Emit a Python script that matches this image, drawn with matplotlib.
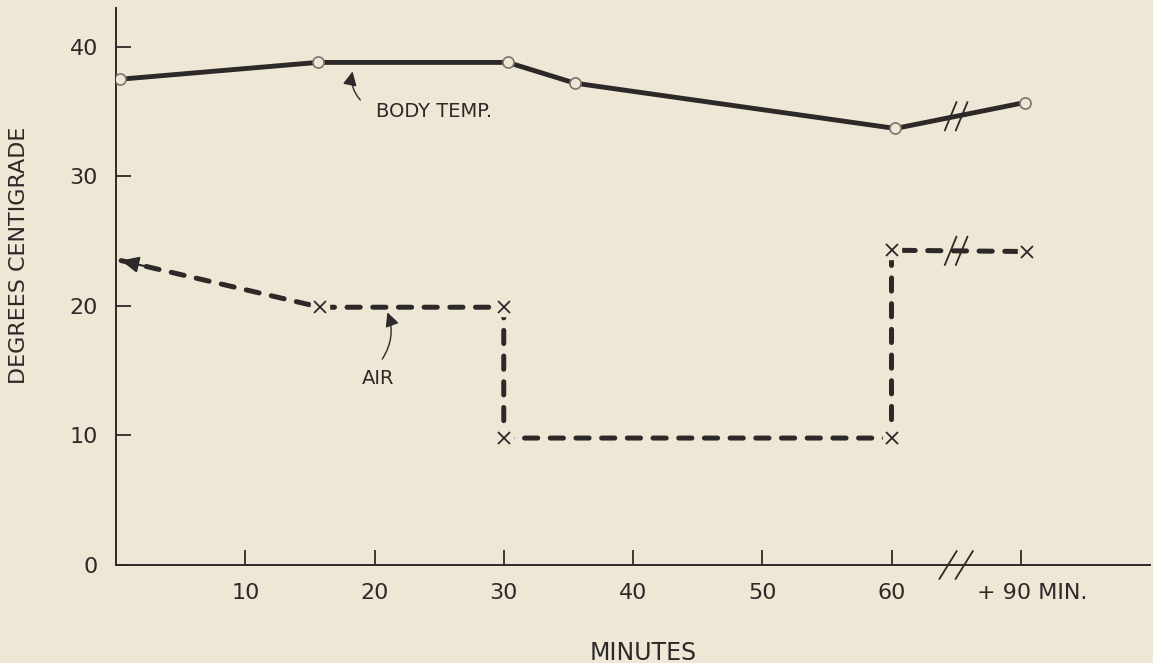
import numpy as np
import matplotlib
matplotlib.use('Agg')
import matplotlib.pyplot as plt
from matplotlib.transforms import ScaledTranslation

BG = '#efe7d6'
INK = '#2d2928'

# readings (minutes, deg C); the 90 min reading sits past the axis break
body_min = [0.3, 15.6, 30.3, 35.5, 60.3, 90.3]
body_temp = [37.5, 38.8, 38.8, 37.2, 33.7, 35.7]

air_min = [0.4, 15.8, 30.0, 30.0, 60.0, 60.0, 90.5]
air_temp = [23.5, 19.9, 19.9, 9.8, 9.8, 24.3, 24.2]

x_ticks = [10, 20, 30, 40, 50, 60, 90]
x_labels = ['10', '20', '30', '40', '50', '60', '+ 90 MIN.']
y_ticks = [0, 10, 20, 30, 40]
y_labels = ['0', '10', '20', '30', '40']

BREAK_POS = 65  # where the // marks go (axis units)


def pos(m):
    # axis is broken after 60 min, 90 min is drawn where 70 would be
    m = np.asarray(m, dtype=float)
    return np.where(m > 75, m - 20, m)


def draw_break(ax, xc, yc, dx, dy, gap, lw=1.3):
    for off in (-gap / 2, gap / 2):
        ax.plot([xc + off - dx / 2, xc + off + dx / 2], [yc - dy / 2, yc + dy / 2],
                color=INK, lw=lw, solid_capstyle='butt', clip_on=False, zorder=5)


plt.rcParams['lines.scale_dashes'] = False
plt.rcParams['font.family'] = ['DejaVu Sans']

fig = plt.figure(figsize=(11.53, 6.63), dpi=100, facecolor=BG)
ax = fig.add_axes([116 / 1153, 1 - 565 / 663, 1034 / 1153, 557 / 663])
ax.set_facecolor(BG)
ax.set_xlim(0, 80)
ax.set_ylim(0, 43)

for s in ['top', 'right']:
    ax.spines[s].set_visible(False)
for s in ['left', 'bottom']:
    ax.spines[s].set_color(INK)
    ax.spines[s].set_linewidth(1.4)

# body temperature, solid
bx = pos(body_min)
ax.plot(bx, body_temp, color=INK, lw=3.5, solid_capstyle='butt', zorder=2)
ax.plot(bx, body_temp, ls='none', marker='o', ms=8, mfc=BG, mec='#7a736e', mew=1.2, zorder=4)

# air temperature, dashed
axx = pos(air_min)
ax.plot(axx, air_temp, color=INK, lw=3.6, dashes=(9.5, 9), dash_capstyle='round', zorder=2)
ax.plot(axx[1:], air_temp[1:], ls='none', marker='s', ms=13, mfc=BG, mec=BG, zorder=3)
ax.plot(axx[1:], air_temp[1:], ls='none', marker='x', ms=8, mec=INK, mew=1.3, zorder=4)

# arrow head at the start of the air line
hx, hy = axx[0], air_temp[0]
tx = hx + 0.12 * (axx[1] - hx)
ty = hy + 0.12 * (air_temp[1] - hy)
ax.annotate('', xy=(hx, hy), xytext=(tx, ty),
            arrowprops=dict(arrowstyle='-|>,head_length=0.75,head_width=0.35', color=INK,
                            lw=1.5, shrinkA=0, shrinkB=0, mutation_scale=14), zorder=5)

# labels with curved pointers
ax.text(24.6, 35.0, 'BODY TEMP.', fontsize=14, color=INK, ha='center', va='center')
ax.annotate('', xy=(18.3, 38.1), xytext=(18.9, 35.9),
            arrowprops=dict(arrowstyle='-|>,head_length=0.6,head_width=0.3', color=INK, lw=1,
                            shrinkA=0, shrinkB=0, mutation_scale=14,
                            connectionstyle='arc3,rad=-0.25'))
ax.text(20.3, 14.4, 'AIR', fontsize=14, color=INK, ha='center', va='center')
ax.annotate('', xy=(21.0, 19.5), xytext=(20.6, 15.9),
            arrowprops=dict(arrowstyle='-|>,head_length=0.6,head_width=0.3', color=INK, lw=1,
                            shrinkA=0, shrinkB=0, mutation_scale=14,
                            connectionstyle='arc3,rad=0.25'))

# break marks on the lines and the axis
draw_break(ax, BREAK_POS, np.interp(BREAK_POS, bx, body_temp), 0.95, 2.3, 0.85)
draw_break(ax, BREAK_POS, np.interp(BREAK_POS, axx[-2:], air_temp[-2:]), 0.95, 2.3, 0.85)
draw_break(ax, BREAK_POS, 0, 1.4, 2.25, 1.25)

ax.set_xticks(pos(x_ticks))
ax.set_xticklabels(x_labels)
ax.set_yticks(y_ticks)
ax.set_yticklabels(y_labels)
ax.tick_params(axis='both', direction='in', length=11, width=1.3, colors=INK,
               labelsize=16, pad=13)
last = ax.xaxis.get_major_ticks()[-1].label1
last.set_transform(last.get_transform() + ScaledTranslation(0.11, 0, fig.dpi_scale_trans))

ax.set_xlabel('MINUTES', fontsize=17, color=INK)
ax.xaxis.set_label_coords((643 - 116) / 1034, (565 - 641) / 557)
ax.set_ylabel('DEGREES CENTIGRADE', fontsize=16, color=INK)
ax.yaxis.set_label_coords((29 - 116) / 1034, (565 - 255) / 557)

fig.savefig('out.png', dpi=100, facecolor=BG)
